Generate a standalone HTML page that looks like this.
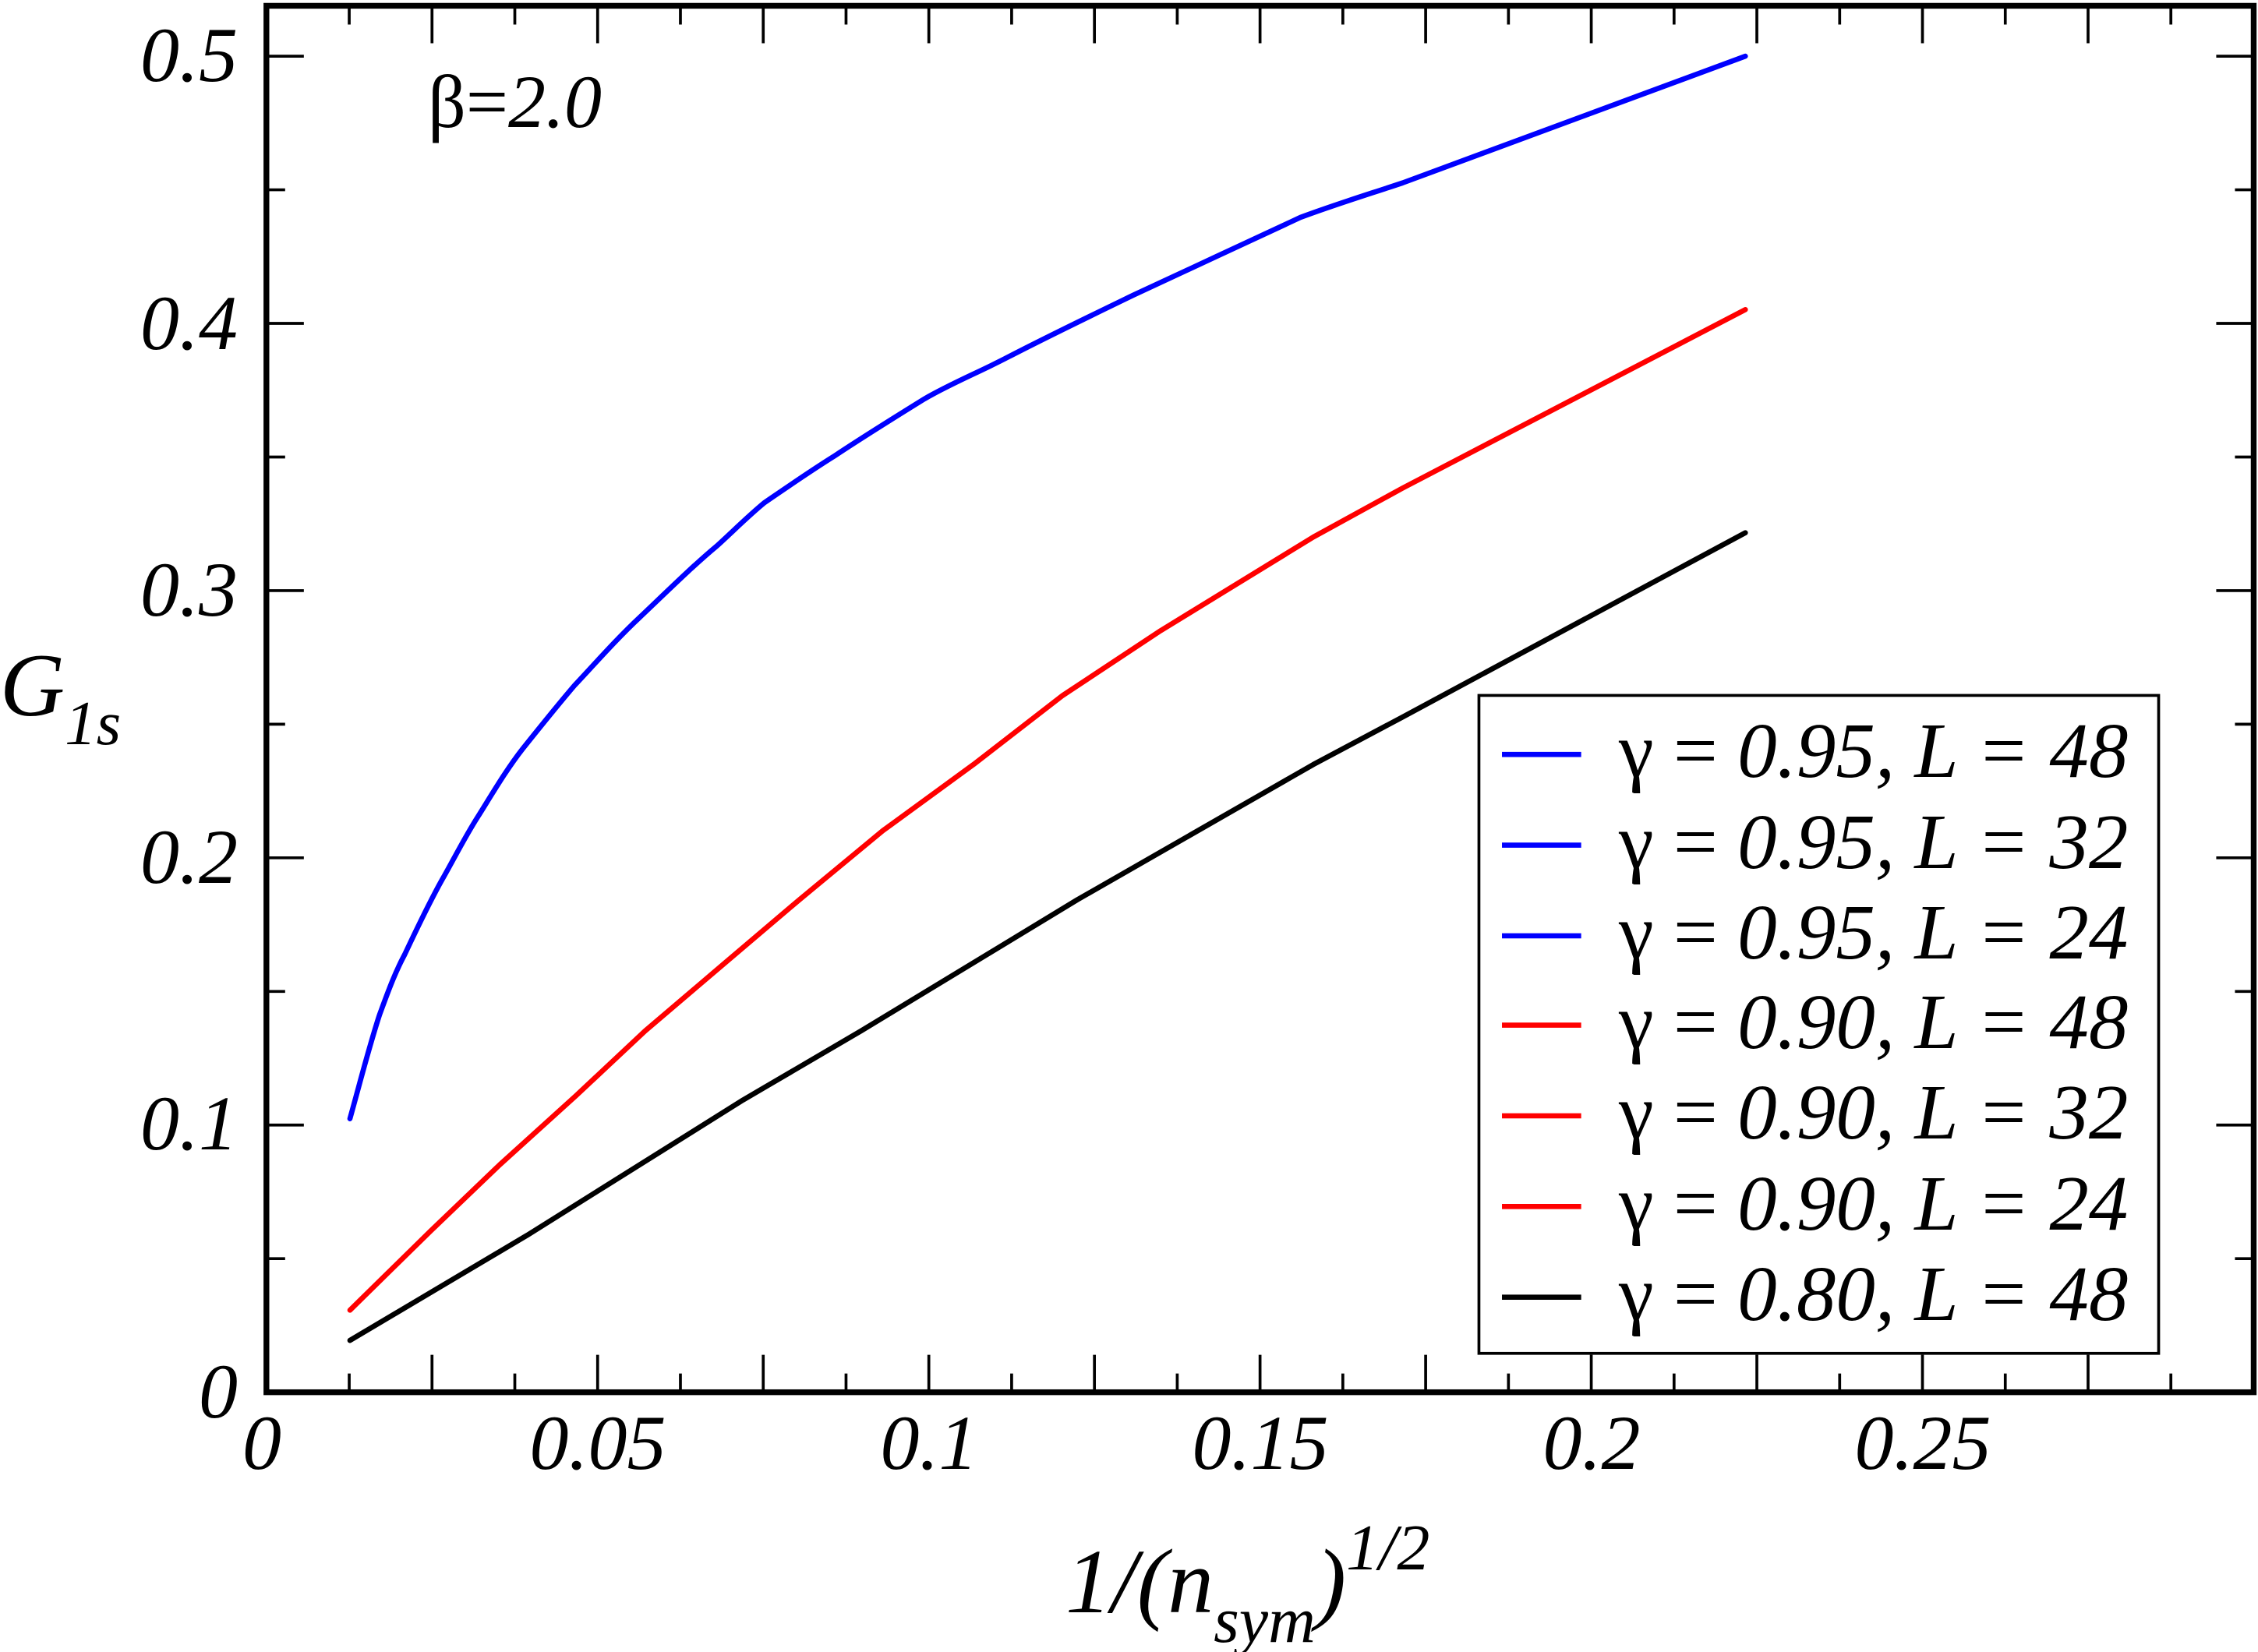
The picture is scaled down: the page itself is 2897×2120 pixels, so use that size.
<!DOCTYPE html>
<html><head><meta charset="utf-8"><style>
html,body{margin:0;padding:0;background:#fff}
#c{position:relative;width:2897px;height:2120px;overflow:hidden}
svg{position:absolute;left:0;top:0;display:block}
.t{position:absolute;font-family:"Liberation Serif","Times New Roman","DejaVu Serif",serif;color:#000;line-height:1;white-space:nowrap}
.i{font-style:italic}
.xl{width:400px;text-align:center;font-size:100px;font-style:italic;top:1802px}
.yl{right:2592px;font-size:100px;font-style:italic}
.lg{left:2077px;font-size:101px}
</style></head>
<body><div id="c">
<svg width="2897" height="2120" viewBox="0 0 1568 1147.4" xmlns="http://www.w3.org/2000/svg">
<rect width="1568" height="1147.4" fill="#fff"/>
<g fill="none" stroke-linejoin="round" stroke-linecap="round" stroke-width="3.6">
<path stroke="#0000ff" d="M243,777 C250,752 256,728 263.5,705 C269,690 274,676 281,663 C289,646 298,627 307,611 C315,597 323,581 332,567 C342,551 352,534 363,520 C375,505 387,490 399,476 C414,460 429,443 444,429 C462,412 480,394 498,379 C509,369 520,358 531,349 C547,338 563,327 579,317 C600,303 621,290 642,277 C661,266 681,258 700,248 C729,233 758,219 787,205 C826,187 864,169 903,151 C927,142 950,135 974,127 L1212,39"/>
<polyline stroke="#ff0000" points="243,910 299,855 347,809 400,761 448,716 502,670 555,625 613,577 676,531 738,483 806,438 912,373 974,339 1212,215"/>
<polyline stroke="#000" points="243,931 366,858 516,764 598,716 748,625 912,531 974,498 1212,370"/>
</g>
<g stroke="#000" stroke-width="2">
<path d="M300,967v-26M415,967v-26M530,967v-26M645,967v-26M760,967v-26M875,967v-26M990,967v-26M1105,967v-26M1220,967v-26M1335,967v-26M1450,967v-26
M242.5,967v-13M357.5,967v-13M472.5,967v-13M587.5,967v-13M702.5,967v-13M817.5,967v-13M932.5,967v-13M1047.5,967v-13M1162.5,967v-13M1277.5,967v-13M1392.5,967v-13M1507.5,967v-13
M300,4v26M415,4v26M530,4v26M645,4v26M760,4v26M875,4v26M990,4v26M1105,4v26M1220,4v26M1335,4v26M1450,4v26
M242.5,4v13M357.5,4v13M472.5,4v13M587.5,4v13M702.5,4v13M817.5,4v13M932.5,4v13M1047.5,4v13M1162.5,4v13M1277.5,4v13M1392.5,4v13M1507.5,4v13"/>
<path d="M185,781.4h26M185,595.8h26M185,410.2h26M185,224.6h26M185,39h26
M185,874.2h13M185,688.6h13M185,503h13M185,317.4h13M185,131.8h13
M1565,781.4h-26M1565,595.8h-26M1565,410.2h-26M1565,224.6h-26M1565,39h-26
M1565,874.2h-13M1565,688.6h-13M1565,503h-13M1565,317.4h-13M1565,131.8h-13"/>
</g>
<rect x="185" y="4" width="1380" height="963" fill="none" stroke="#000" stroke-width="4"/>
<rect x="1027" y="483" width="472" height="457" fill="#fff" stroke="#000" stroke-width="2"/>
<g stroke-width="3.6">
<line x1="1043" x2="1098" y1="524" y2="524" stroke="#0000ff"/>
<line x1="1043" x2="1098" y1="587" y2="587" stroke="#0000ff"/>
<line x1="1043" x2="1098" y1="650" y2="650" stroke="#0000ff"/>
<line x1="1043" x2="1098" y1="712" y2="712" stroke="#ff0000"/>
<line x1="1043" x2="1098" y1="775" y2="775" stroke="#ff0000"/>
<line x1="1043" x2="1098" y1="838" y2="838" stroke="#ff0000"/>
<line x1="1043" x2="1098" y1="901" y2="901" stroke="#000"/>
</g>
</svg>
<div class="t xl" style="left:136px">0</div>
<div class="t xl" style="left:567px">0.05</div>
<div class="t xl" style="left:992px">0.1</div>
<div class="t xl" style="left:1417px">0.15</div>
<div class="t xl" style="left:1842px">0.2</div>
<div class="t xl" style="left:2267px">0.25</div>
<div class="t yl" style="top:1736px">0</div>
<div class="t yl" style="top:1392px">0.1</div>
<div class="t yl" style="top:1050px">0.2</div>
<div class="t yl" style="top:707px">0.3</div>
<div class="t yl" style="top:365px">0.4</div>
<div class="t yl" style="top:21px">0.5</div>
<div class="t" style="left:549px;top:83px;font-size:96px">β=<span class="i">2.0</span></div>
<div class="t i" style="left:0px;top:822px;font-size:115px">G<span style="font-size:81px;vertical-align:-37px">1s</span></div>
<div class="t i" style="left:1367px;top:1945px;font-size:118px">1/(n<span style="font-size:84px;vertical-align:-38px">sym</span>)<span style="font-size:84px;vertical-align:55px">1/2</span></div>
<div class="t lg" style="top:913px">γ = <span class="i">0.95, L = 48</span></div>
<div class="t lg" style="top:1030px">γ = <span class="i">0.95, L = 32</span></div>
<div class="t lg" style="top:1146px">γ = <span class="i">0.95, L = 24</span></div>
<div class="t lg" style="top:1261px">γ = <span class="i">0.90, L = 48</span></div>
<div class="t lg" style="top:1377px">γ = <span class="i">0.90, L = 32</span></div>
<div class="t lg" style="top:1494px">γ = <span class="i">0.90, L = 24</span></div>
<div class="t lg" style="top:1610px">γ = <span class="i">0.80, L = 48</span></div>
</div></body></html>
